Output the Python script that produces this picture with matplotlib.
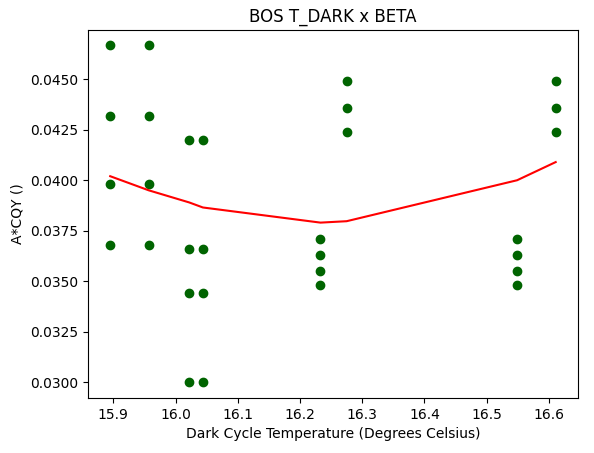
import matplotlib
matplotlib.use("Agg")
import matplotlib.pyplot as plt

# scatter data: temperature -> A*CQY samples
temps = [15.895] * 4 + [15.957] * 4 + [16.022] * 4 + [16.044] * 4 \
    + [16.233] * 4 + [16.275] * 3 + [16.549] * 4 + [16.611] * 3
cqy = [0.0467, 0.0432, 0.0398, 0.0368,
       0.0467, 0.0432, 0.0398, 0.0368,
       0.0420, 0.0366, 0.0344, 0.0300,
       0.0420, 0.0366, 0.0344, 0.0300,
       0.0371, 0.0363, 0.0355, 0.0348,
       0.0449, 0.0436, 0.0424,
       0.0371, 0.0363, 0.0355, 0.0348,
       0.0449, 0.0436, 0.0424]

# fitted trend line
fit_x = [15.895, 15.957, 16.022, 16.044, 16.233, 16.275, 16.549, 16.611]
fit_y = [0.0402, 0.0395, 0.0389, 0.03865, 0.0379, 0.03797, 0.0400, 0.0409]

fig, ax = plt.subplots(figsize=(5.94, 4.53), dpi=100)
ax.scatter(temps, cqy, color='darkgreen')
ax.plot(fit_x, fit_y, color='red')
ax.set_ylim(0.0292, 0.04745)
ax.set_title('BOS T_DARK x BETA')
ax.set_xlabel('Dark Cycle Temperature (Degrees Celsius)')
ax.set_ylabel('A*CQY ()')
fig.subplots_adjust(left=0.148, right=0.973, top=0.934, bottom=0.121)
fig.savefig('out.png')
